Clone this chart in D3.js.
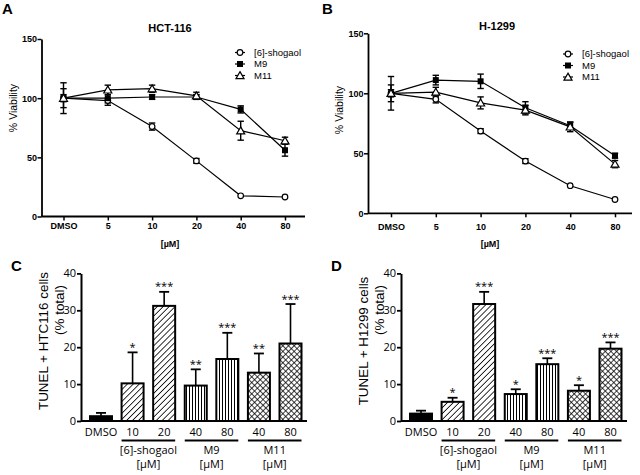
<!DOCTYPE html>
<html><head><meta charset="utf-8">
<script src="https://cdn.jsdelivr.net/npm/d3@7"></script>
<style>body{margin:0;background:#fff}svg{display:block}</style>
</head><body>
<svg id="c" width="640" height="475"></svg>
<script>
// ---------- DATA ----------
const doseCats = ["DMSO", "5", "10", "20", "40", "80"];
const seriesNames = ["[6]-shogaol", "M9", "M11"];
const viabTicks = [0, 50, 100, 150];

// HCT-116 viability (%)
const hctShogaol = [100, 98, 76, 47, 17.5, 16.5];
const hctShogaolErr = [13, 2, 3, 2, 1, 1];
const hctM9 = [100, 100, 101, 101, 90.5, 56];
const hctM9Err = [8, 6, 2, 2, 3, 5];
const hctM11 = [100, 107, 108, 102, 72.5, 64];
const hctM11Err = [3, 4, 3, 3, 8, 3];

// H-1299 viability (%)
const h1299Shogaol = [100, 95, 68.5, 43.5, 23, 11.5];
const h1299ShogaolErr = [7, 3, 2, 2, 1, 1];
const h1299M9 = [100, 111, 110, 88, 73, 48];
const h1299M9Err = [14, 4, 6, 5, 3, 2];
const h1299M11 = [100, 101, 92, 86, 72, 41];
const h1299M11Err = [3, 4, 5, 4, 4, 3];

// TUNEL bars
const barLabels = ["DMSO", "10", "20", "40", "80", "40", "80"];
const barGroups = ["DMSO", "[6]-shogaol", "[6]-shogaol", "M9", "M9", "M11", "M11"];
const groupNames = ["[6]-shogaol", "M9", "M11"];
const tunelTicks = [0, 10, 20, 30, 40];
const hctTunel = [1.3, 10.2, 31.2, 9.6, 16.8, 13.1, 21.0];
const hctTunelErr = [0.9, 8.4, 3.8, 4.4, 7.1, 5.2, 10.7];
const hctStars = ["", "*", "***", "**", "***", "**", "***"];
const h1299Tunel = [2.0, 5.2, 31.7, 7.3, 15.4, 8.2, 19.6];
const h1299TunelErr = [0.8, 1.1, 3.3, 1.3, 1.6, 1.5, 1.7];
const h1299Stars = ["", "*", "***", "*", "***", "*", "***"];

// ---------- DRAW ----------
const svg = d3.select("#c");
const LF = "'Liberation Sans', Arial, sans-serif";

// patterns
const defs = svg.append("defs");
const pDiag = defs.append("pattern").attr("id", "pDiag").attr("patternUnits", "userSpaceOnUse")
  .attr("width", 4.2).attr("height", 4.2).attr("patternTransform", "rotate(45)");
pDiag.append("rect").attr("width", 4.2).attr("height", 4.2).attr("fill", "#fff");
pDiag.append("line").attr("x1", 0).attr("y1", 0).attr("x2", 0).attr("y2", 4.2)
  .attr("stroke", "#000").attr("stroke-width", 1.6);
const pVert = defs.append("pattern").attr("id", "pVert").attr("patternUnits", "userSpaceOnUse")
  .attr("width", 3).attr("height", 3);
pVert.append("rect").attr("width", 3).attr("height", 3).attr("fill", "#fff");
pVert.append("line").attr("x1", 0.5).attr("y1", 0).attr("x2", 0.5).attr("y2", 3)
  .attr("stroke", "#000").attr("stroke-width", 1);
const pCross = defs.append("pattern").attr("id", "pCross").attr("patternUnits", "userSpaceOnUse")
  .attr("width", 4).attr("height", 4).attr("patternTransform", "rotate(45)");
pCross.append("rect").attr("width", 4).attr("height", 4).attr("fill", "#fff");
pCross.append("line").attr("x1", 0).attr("y1", 0).attr("x2", 0).attr("y2", 4)
  .attr("stroke", "#000").attr("stroke-width", 1.5);
pCross.append("line").attr("x1", 0).attr("y1", 0).attr("x2", 4).attr("y2", 0)
  .attr("stroke", "#000").attr("stroke-width", 1.5);
const groupFill = { "DMSO": "#000", "[6]-shogaol": "url(#pDiag)", "M9": "url(#pVert)", "M11": "url(#pCross)" };

function marker(g, name, x, y) {
  if (name === "[6]-shogaol") {
    g.append("circle").attr("cx", x).attr("cy", y).attr("r", 2.8)
      .attr("fill", "#fff").attr("stroke", "#000").attr("stroke-width", 1.2);
  } else if (name === "M9") {
    g.append("rect").attr("x", x - 3).attr("y", y - 3).attr("width", 6).attr("height", 6).attr("fill", "#000");
  } else {
    const s = d3.symbol().type(d3.symbolTriangle).size(28);
    g.append("path").attr("d", s()).attr("transform", `translate(${x},${y + 0.8})`)
      .attr("fill", "#fff").attr("stroke", "#000").attr("stroke-width", 1.2);
  }
}

function lineChart(o) {
  const g = svg.append("g");
  const x = d3.scalePoint().domain(doseCats).range([o.xFirst, o.xLast]);
  const y = d3.scaleLinear().domain([0, 150]).range([o.y0, o.y150]);

  // y axis
  const ya = g.append("g").attr("transform", `translate(${o.axisX},0)`)
    .call(d3.axisLeft(y).tickValues(viabTicks).tickSize(4).tickSizeOuter(0).tickFormat(d3.format("d")));
  ya.select(".domain").attr("stroke-width", 1.8);
  ya.selectAll(".tick line").attr("stroke-width", 1.5);
  ya.selectAll(".tick text").attr("font-family", LF).attr("font-size", 9).attr("font-weight", "bold").attr("x", -4.5);

  // x axis
  const xa = g.append("g").attr("transform", `translate(0,${o.y0})`)
    .call(d3.axisBottom(x).tickSize(4).tickSizeOuter(0));
  xa.select(".domain").remove();
  xa.append("line").attr("x1", o.axisX).attr("x2", o.xEnd).attr("y1", 0).attr("y2", 0)
    .attr("stroke", "#000").attr("stroke-width", 1.8);
  xa.selectAll(".tick line").attr("stroke-width", 1.5);
  xa.selectAll(".tick text").attr("font-family", LF).attr("font-size", 9).attr("font-weight", "bold")
    .attr("y", o.labelDy).attr("dy", 0);

  g.append("text").attr("x", o.unitX).attr("y", o.unitY).attr("text-anchor", "middle")
    .attr("font-family", LF).attr("font-size", 9).attr("font-weight", "bold").text("[µM]");

  // y label
  g.append("text").attr("transform", `translate(${o.ylabX},${o.ylabY}) rotate(-90)`)
    .attr("text-anchor", "middle").attr("font-family", LF).attr("font-size", 10.5).text("% Viability");

  // title
  g.append("text").attr("x", o.titleX).attr("y", o.titleY).attr("text-anchor", "middle")
    .attr("font-family", LF).attr("font-size", 11).attr("font-weight", "bold").text(o.title);

  // panel letter
  g.append("text").attr("x", o.letterX).attr("y", 14).attr("font-family", LF).attr("font-size", 15)
    .attr("font-weight", "bold").text(o.letter);

  const line = d3.line().x((d, i) => x(doseCats[i])).y(d => y(d));
  o.series.forEach(s => {
    g.append("path").attr("d", line(s.v)).attr("fill", "none").attr("stroke", "#000").attr("stroke-width", 1.2);
  });
  o.series.forEach(s => {
    s.v.forEach((v, i) => {
      const cx = x(doseCats[i]), e = s.e[i];
      if (e > 1.2) {
        g.append("line").attr("x1", cx).attr("x2", cx).attr("y1", y(v - e)).attr("y2", y(v + e))
          .attr("stroke", "#000").attr("stroke-width", 1.4);
        [v - e, v + e].forEach(w => g.append("line").attr("x1", cx - 3.2).attr("x2", cx + 3.2)
          .attr("y1", y(w)).attr("y2", y(w)).attr("stroke", "#000").attr("stroke-width", 1.4));
      }
    });
  });
  o.series.forEach(s => s.v.forEach((v, i) => marker(g, s.name, x(doseCats[i]), y(v))));

  // legend
  o.series.forEach((s, i) => {
    const ly = o.legY + i * o.legStep;
    g.append("line").attr("x1", o.legX - 5).attr("x2", o.legX + 5).attr("y1", ly).attr("y2", ly)
      .attr("stroke", "#000").attr("stroke-width", 1.2);
    marker(g, s.name, o.legX, ly);
    g.append("text").attr("x", o.legX + 14).attr("y", ly + 3.3).attr("font-family", LF)
      .attr("font-size", 9.5).text(s.name);
  });
}

lineChart({
  letter: "A", letterX: 2, title: "HCT-116", titleX: 170, titleY: 32,
  axisX: 41.5, y0: 216.5, y150: 39, xFirst: 63.5, xLast: 285, xEnd: 305, labelDy: 12,
  unitX: 170, unitY: 246.5, ylabX: 17, ylabY: 108,
  legX: 240, legY: 52.5, legStep: 11.5,
  series: [
    { name: seriesNames[0], v: hctShogaol, e: hctShogaolErr },
    { name: seriesNames[1], v: hctM9, e: hctM9Err },
    { name: seriesNames[2], v: hctM11, e: hctM11Err }
  ]
});
lineChart({
  letter: "B", letterX: 322, title: "H-1299", titleX: 497, titleY: 30,
  axisX: 368, y0: 213.3, y150: 33.3, xFirst: 391, xLast: 615, xEnd: 632, labelDy: 17,
  unitX: 490, unitY: 246.5, ylabX: 343, ylabY: 110,
  legX: 568, legY: 54, legStep: 11.5,
  series: [
    { name: seriesNames[0], v: h1299Shogaol, e: h1299ShogaolErr },
    { name: seriesNames[1], v: h1299M9, e: h1299M9Err },
    { name: seriesNames[2], v: h1299M11, e: h1299M11Err }
  ]
});

const BF = "'Open Sans', 'Liberation Sans', sans-serif";
function barChart(o) {
  const g = svg.append("g");
  const idx = d3.range(barLabels.length);
  const x = d3.scalePoint().domain(idx).range([o.xFirst, o.xFirst + 189.5]);
  const y = d3.scaleLinear().domain([0, 40]).range([421, 273.4]);
  const bw = 22;

  // bars
  idx.forEach(i => {
    g.append("rect").attr("x", x(i) - bw / 2).attr("y", y(o.v[i])).attr("width", bw)
      .attr("height", y(0) - y(o.v[i])).attr("fill", groupFill[barGroups[i]])
      .attr("stroke", "#000").attr("stroke-width", 2);
    const top = y(o.v[i] + o.e[i]);
    g.append("line").attr("x1", x(i)).attr("x2", x(i)).attr("y1", y(o.v[i])).attr("y2", top)
      .attr("stroke", "#000").attr("stroke-width", 1.6);
    g.append("line").attr("x1", x(i) - 5).attr("x2", x(i) + 5).attr("y1", top).attr("y2", top)
      .attr("stroke", "#000").attr("stroke-width", 1.8);
    if (o.stars[i]) {
      g.append("text").attr("x", x(i)).attr("y", top - 1.5).attr("text-anchor", "middle")
        .attr("font-family", BF).attr("font-size", 11).text(o.stars[i]);
    }
  });

  // y axis
  const ya = g.append("g").attr("transform", `translate(${o.axisX},0)`)
    .call(d3.axisLeft(y).tickValues(tunelTicks).tickSize(4).tickSizeOuter(0));
  ya.select(".domain").attr("stroke-width", 2);
  ya.selectAll(".tick line").attr("stroke-width", 1.8);
  ya.selectAll(".tick text").attr("font-family", BF).attr("font-size", 11).attr("x", -5);

  // x axis line
  g.append("line").attr("x1", o.axisX).attr("x2", o.axisX + 226).attr("y1", 421).attr("y2", 421)
    .attr("stroke", "#000").attr("stroke-width", 2.2);
  idx.forEach(i => g.append("text").attr("x", x(i)).attr("y", 435.5).attr("text-anchor", "middle")
    .attr("font-family", BF).attr("font-size", 11).text(barLabels[i]));

  // group brackets
  groupNames.forEach(gn => {
    const ids = idx.filter(i => barGroups[i] === gn);
    const x1 = x(ids[0]) - bw / 2, x2 = x(ids[ids.length - 1]) + bw / 2;
    g.append("line").attr("x1", x1).attr("x2", x2).attr("y1", 440.5).attr("y2", 440.5)
      .attr("stroke", "#000").attr("stroke-width", 2);
    const cx = (x1 + x2) / 2;
    g.append("text").attr("x", cx).attr("y", 454).attr("text-anchor", "middle")
      .attr("font-family", BF).attr("font-size", 11).text(gn);
    g.append("text").attr("x", cx).attr("y", 468).attr("text-anchor", "middle")
      .attr("font-family", BF).attr("font-size", 11).text("[µM]");
  });

  // y labels
  g.append("text").attr("transform", `translate(${o.axisX - 33},341) rotate(-90)`)
    .attr("text-anchor", "middle").attr("font-family", LF).attr("font-size", 13.4).text(o.ylab);
  g.append("text").attr("transform", `translate(${o.axisX - 17},310) rotate(-90)`)
    .attr("text-anchor", "middle").attr("font-family", LF).attr("font-size", 13.4).text("(% total)");

  g.append("text").attr("x", o.letterX).attr("y", 270.5).attr("font-family", LF).attr("font-size", 15)
    .attr("font-weight", "bold").text(o.letter);
}

barChart({ letter: "C", letterX: 11, axisX: 81, xFirst: 101, v: hctTunel, e: hctTunelErr, stars: hctStars,
  ylab: "TUNEL + HTC116 cells" });
barChart({ letter: "D", letterX: 331, axisX: 401, xFirst: 421, v: h1299Tunel, e: h1299TunelErr, stars: h1299Stars,
  ylab: "TUNEL + H1299 cells" });
</script>
</body></html>
